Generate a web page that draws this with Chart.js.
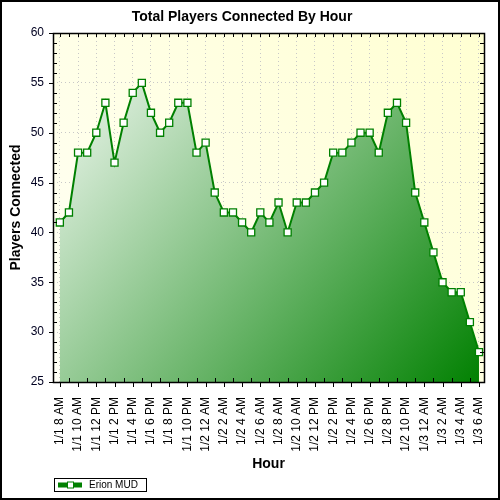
<!DOCTYPE html>
<html>
<head>
<meta charset="utf-8">
<script src="https://cdn.jsdelivr.net/npm/chart.js@4/dist/chart.umd.min.js"></script>
<style>
  html, body { margin: 0; padding: 0; background: #fff; }
  #wrap { width: 500px; height: 500px; }
</style>
</head>
<body>
<div id="wrap"><canvas id="chart" width="500" height="500"></canvas></div>
<script>
const hours = [
    '1/1 8 AM', '1/1 9 AM', '1/1 10 AM', '1/1 11 AM', '1/1 12 PM', '1/1 1 PM',
    '1/1 2 PM', '1/1 3 PM', '1/1 4 PM', '1/1 5 PM', '1/1 6 PM', '1/1 7 PM',
    '1/1 8 PM', '1/1 9 PM', '1/1 10 PM', '1/1 11 PM', '1/2 12 AM', '1/2 1 AM',
    '1/2 2 AM', '1/2 3 AM', '1/2 4 AM', '1/2 5 AM', '1/2 6 AM', '1/2 7 AM',
    '1/2 8 AM', '1/2 9 AM', '1/2 10 AM', '1/2 11 AM', '1/2 12 PM', '1/2 1 PM',
    '1/2 2 PM', '1/2 3 PM', '1/2 4 PM', '1/2 5 PM', '1/2 6 PM', '1/2 7 PM',
    '1/2 8 PM', '1/2 9 PM', '1/2 10 PM', '1/2 11 PM', '1/3 12 AM', '1/3 1 AM',
    '1/3 2 AM', '1/3 3 AM', '1/3 4 AM', '1/3 5 AM', '1/3 6 AM'
];
const players = [
    41, 42, 48, 48, 50, 53, 47, 51, 54, 55,
    52, 50, 51, 53, 53, 48, 49, 44, 42, 42,
    41, 40, 42, 41, 43, 40, 43, 43, 44, 45,
    48, 48, 49, 50, 50, 48, 52, 53, 51, 44,
    41, 38, 35, 34, 34, 31, 28
];
const seriesName = 'Erion MUD';
const yMin = 25;
const yMax = 60;

const FONT = 'Arial, "Liberation Sans", sans-serif';
const GREEN = '#008000';

// frame, minor ticks, yellow plot background, legend and outer border
const decor = {
    id: 'decor',
    beforeDraw(chart) {
        const { ctx, chartArea: a } = chart;
        ctx.save();
        ctx.fillStyle = '#fff';
        ctx.fillRect(0, 0, chart.width, chart.height);
        const g = ctx.createLinearGradient(a.left, a.bottom, a.right, a.top);
        g.addColorStop(0, '#fffff6');
        g.addColorStop(1, '#ffffd2');
        ctx.fillStyle = g;
        ctx.fillRect(a.left, a.top, a.right - a.left, a.bottom - a.top);
        ctx.restore();
    },
    afterDraw(chart) {
        const { ctx, chartArea: a } = chart;
        const xs = chart.scales.x, ys = chart.scales.y;
        ctx.save();
        ctx.strokeStyle = '#000';
        ctx.lineWidth = 1;
        ctx.beginPath();
        for (let i = 0; i < hours.length; i++) {
            const px = Math.round(xs.getPixelForValue(i)) + 0.5;
            // top: every hour, inward
            ctx.moveTo(px, a.top); ctx.lineTo(px, a.top + 4);
            // bottom: labelled hours outward, others inward
            if (i % 2 === 0) { ctx.moveTo(px, a.bottom); ctx.lineTo(px, a.bottom + 5); }
            else { ctx.moveTo(px, a.bottom); ctx.lineTo(px, a.bottom - 4); }
        }
        for (let v = yMin; v <= yMax; v++) {
            const py = Math.round(ys.getPixelForValue(v)) + 0.5;
            if (v % 5 === 0) { ctx.moveTo(a.left - 4, py); ctx.lineTo(a.left, py); }
            else { ctx.moveTo(a.left, py); ctx.lineTo(a.left + 4, py); }
            ctx.moveTo(a.right, py); ctx.lineTo(a.right - 4, py);
        }
        ctx.stroke();
        ctx.lineWidth = 1.5;
        ctx.strokeRect(Math.round(a.left) + 0.5, Math.round(a.top) + 0.5,
            Math.round(a.right - a.left), Math.round(a.bottom - a.top));

        // legend
        const lx = 54, ly = 478, lw = 92, lh = 13;
        ctx.lineWidth = 1;
        ctx.strokeRect(lx + 0.5, ly + 0.5, lw, lh);
        const my = ly + lh / 2 + 0.5;
        ctx.fillStyle = GREEN;
        ctx.fillRect(lx + 4, my - 2.5, 24, 5);
        ctx.fillStyle = '#fff';
        ctx.strokeStyle = GREEN;
        ctx.fillRect(lx + 13, my - 3.5, 7, 7);
        ctx.strokeRect(lx + 13.5, my - 3, 6, 6);
        ctx.fillStyle = '#000';
        ctx.font = '10px ' + FONT;
        ctx.textBaseline = 'middle';
        ctx.fillText(chart.data.datasets[0].label, lx + 35, my);

        // outer border
        ctx.strokeStyle = '#000';
        ctx.lineWidth = 2;
        ctx.strokeRect(1, 1, chart.width - 2, chart.height - 2);
        ctx.restore();
    }
};

const ctx = document.getElementById('chart').getContext('2d');
new Chart(ctx, {
    type: 'line',
    data: {
        datasets: [{
            label: seriesName,
            data: players.map((p, i) => ({ x: i, y: p })),
            borderColor: GREEN,
            borderWidth: 2,
            fill: 'start',
            backgroundColor: (c) => {
                const a = c.chart.chartArea;
                if (!a) return 'rgba(0,128,0,0.4)';
                const g = c.chart.ctx.createLinearGradient(a.left, a.top, a.right, a.bottom);
                g.addColorStop(0, '#ffffff');
                g.addColorStop(1, GREEN);
                return g;
            },
            pointStyle: 'rect',
            pointRadius: 5,
            pointBackgroundColor: '#fff',
            pointBorderColor: GREEN,
            pointBorderWidth: 1.3,
            tension: 0
        }]
    },
    options: {
        responsive: false,
        animation: false,
        devicePixelRatio: 1,
        layout: { padding: { top: 0, left: 0, right: 16, bottom: 22 } },
        plugins: {
            legend: { display: false },
            tooltip: { enabled: false },
            title: {
                display: true,
                text: 'Total Players Connected By Hour',
                color: '#000',
                font: { family: FONT, size: 14, weight: 'bold' },
                padding: { top: 9, bottom: 7.2 }
            }
        },
        scales: {
            x: {
                type: 'linear',
                min: -0.75,
                max: 46.55,
                afterFit: (s) => { s.height = 96; s.paddingLeft = 0; s.paddingRight = 0; },
                ticks: {
                    stepSize: 1,
                    includeBounds: false,
                    autoSkip: false,
                    minRotation: 90,
                    maxRotation: 90,
                    padding: 15,
                    color: '#000',
                    font: { family: FONT, size: 12 },
                    callback: (v) => (v % 2 === 0 ? hours[v] : '')
                },
                grid: {
                    drawTicks: false,
                    tickLength: 0,
                    color: (c) => (c.tick && c.tick.value % 2 === 0 ? '#c8c8c8' : 'rgba(0,0,0,0)')
                },
                border: { display: false, dash: [1, 3] },
                title: {
                    display: true,
                    text: 'Hour',
                    color: '#000',
                    font: { family: FONT, size: 14, weight: 'bold' },
                    padding: { top: 0, bottom: 5.6 }
                }
            },
            y: {
                min: yMin,
                max: yMax,
                afterFit: (s) => { s.width = 53; },
                ticks: {
                    stepSize: 5,
                    padding: 9,
                    color: '#000020',
                    font: { family: FONT, size: 12 }
                },
                grid: {
                    drawTicks: false,
                    tickLength: 0,
                    color: '#c8c8c8'
                },
                border: { display: false, dash: [1, 3] },
                title: {
                    display: true,
                    text: 'Players Connected',
                    color: '#000',
                    font: { family: FONT, size: 14, weight: 'bold' },
                    padding: { top: 7.6, bottom: 0 }
                }
            }
        }
    },
    plugins: [decor]
});
</script>
</body>
</html>
